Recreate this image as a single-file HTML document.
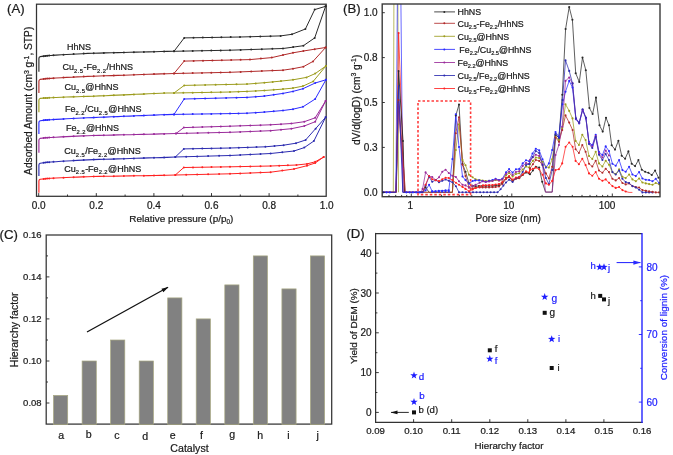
<!DOCTYPE html>
<html><head><meta charset="utf-8"><title>Figure</title>
<style>
html,body{margin:0;padding:0;background:#fff;}
body{width:673px;height:455px;overflow:hidden;font-family:"Liberation Sans",sans-serif;}
svg{display:block;filter:blur(0.35px);}
text{stroke-width:0.22px;paint-order:stroke;}
</style></head><body>
<svg width="673" height="455" viewBox="0 0 673 455" font-family="Liberation Sans, sans-serif">
<rect x="36.5" y="4.2" width="289.7" height="192.10000000000002" fill="none" stroke="#333" stroke-width="1.25"/>
<line x1="38.7" y1="196.3" x2="38.7" y2="193.1" stroke="#222" stroke-width="0.9"/>
<line x1="67.5" y1="196.3" x2="67.5" y2="194.5" stroke="#222" stroke-width="0.9"/>
<line x1="96.3" y1="196.3" x2="96.3" y2="193.1" stroke="#222" stroke-width="0.9"/>
<line x1="125.1" y1="196.3" x2="125.1" y2="194.5" stroke="#222" stroke-width="0.9"/>
<line x1="153.9" y1="196.3" x2="153.9" y2="193.1" stroke="#222" stroke-width="0.9"/>
<line x1="182.7" y1="196.3" x2="182.7" y2="194.5" stroke="#222" stroke-width="0.9"/>
<line x1="211.5" y1="196.3" x2="211.5" y2="193.1" stroke="#222" stroke-width="0.9"/>
<line x1="240.3" y1="196.3" x2="240.3" y2="194.5" stroke="#222" stroke-width="0.9"/>
<line x1="269.1" y1="196.3" x2="269.1" y2="193.1" stroke="#222" stroke-width="0.9"/>
<line x1="297.9" y1="196.3" x2="297.9" y2="194.5" stroke="#222" stroke-width="0.9"/>
<text x="38.7" y="208.9" font-size="10" text-anchor="middle" fill="#1a1a1a" stroke="#1a1a1a" >0.0</text>
<text x="96.3" y="208.9" font-size="10" text-anchor="middle" fill="#1a1a1a" stroke="#1a1a1a" >0.2</text>
<text x="153.9" y="208.9" font-size="10" text-anchor="middle" fill="#1a1a1a" stroke="#1a1a1a" >0.4</text>
<text x="211.5" y="208.9" font-size="10" text-anchor="middle" fill="#1a1a1a" stroke="#1a1a1a" >0.6</text>
<text x="269.1" y="208.9" font-size="10" text-anchor="middle" fill="#1a1a1a" stroke="#1a1a1a" >0.8</text>
<text x="326.7" y="208.9" font-size="10" text-anchor="middle" fill="#1a1a1a" stroke="#1a1a1a" >1.0</text>
<text x="181.3" y="222.0" font-size="9.95" text-anchor="middle" fill="#1a1a1a" stroke="#1a1a1a" >Relative pressure (p/p<tspan font-size="6.3" dy="2.2" letter-spacing="0">0</tspan><tspan dy="-2.2" font-size="1">&#8203;</tspan>)</text>
<text transform="translate(32.3,100.8) rotate(-90)" font-size="10.2" text-anchor="middle" fill="#1a1a1a" stroke="#1a1a1a">Adsorbed Amount (cm<tspan font-size="6.9" dy="-3.4">3</tspan><tspan dy="3.4" font-size="1">&#8203;</tspan> g<tspan font-size="6.9" dy="-3.4">-1</tspan><tspan dy="3.4" font-size="1">&#8203;</tspan>, STP)</text>
<text x="7.0" y="13.3" font-size="13.2" text-anchor="start" fill="#1a1a1a" stroke="#1a1a1a" >(A)</text>
<polyline points="38.9,71.8 38.9,58.6 39.2,57.3 40.2,56.6 45.5,55.9 50.8,55.5 56.0,55.1 61.3,54.8 66.6,54.5 71.9,54.2 77.2,54.0 82.4,53.7 87.7,53.4 93.0,53.2 99.2,53.1 105.3,52.9 111.5,52.8 117.7,52.6 123.8,52.5 130.0,52.3 136.2,52.1 142.3,52.0 148.5,51.9 154.7,51.7 160.8,51.5 167.0,51.4 174.0,51.3" fill="none" stroke="#2a2a2a" stroke-width="1.15" stroke-linejoin="round" />
<polyline points="174.0,51.3 230.0,50.2 283.0,48.5 303.4,45.7 314.7,37.9 325.6,6.3" fill="none" stroke="#2a2a2a" stroke-width="1.0" stroke-linejoin="round" />
<polyline points="174.0,51.3 184.2,37.9 240.0,37.0 280.6,35.9 292.0,34.3 305.4,29.0 314.7,9.6 325.6,6.3" fill="none" stroke="#2a2a2a" stroke-width="1.0" stroke-linejoin="round" />
<g fill="#2a2a2a" ><circle cx="43.6" cy="56.2" r="1.0"/><circle cx="45.4" cy="55.9" r="1.0"/><circle cx="47.2" cy="55.8" r="1.0"/><circle cx="49.2" cy="55.6" r="1.0"/><circle cx="53.5" cy="55.3" r="1.0"/><circle cx="63.5" cy="54.7" r="1.0"/><circle cx="73.6" cy="54.1" r="1.0"/><circle cx="83.7" cy="53.6" r="1.0"/><circle cx="93.7" cy="53.2" r="1.0"/><circle cx="103.8" cy="52.9" r="1.0"/><circle cx="113.8" cy="52.7" r="1.0"/><circle cx="123.9" cy="52.4" r="1.0"/><circle cx="133.9" cy="52.2" r="1.0"/><circle cx="143.9" cy="52.0" r="1.0"/><circle cx="154.0" cy="51.7" r="1.0"/><circle cx="164.1" cy="51.5" r="1.0"/></g>
<g fill="#2a2a2a" ><circle cx="174.0" cy="51.3" r="1.0"/><circle cx="183.3" cy="51.1" r="1.0"/><circle cx="192.7" cy="50.9" r="1.0"/><circle cx="202.0" cy="50.8" r="1.0"/><circle cx="211.3" cy="50.6" r="1.0"/><circle cx="220.7" cy="50.4" r="1.0"/><circle cx="230.0" cy="50.2" r="1.0"/><circle cx="240.6" cy="49.9" r="1.0"/><circle cx="251.2" cy="49.5" r="1.0"/><circle cx="261.8" cy="49.2" r="1.0"/><circle cx="272.4" cy="48.8" r="1.0"/><circle cx="283.0" cy="48.5" r="1.0"/><circle cx="293.2" cy="47.1" r="1.0"/><circle cx="303.4" cy="45.7" r="1.0"/><circle cx="314.7" cy="37.9" r="1.0"/><circle cx="325.6" cy="6.3" r="1.0"/></g>
<g fill="#2a2a2a" ><circle cx="174.0" cy="51.3" r="1.0"/><circle cx="184.2" cy="37.9" r="1.0"/><circle cx="193.5" cy="37.8" r="1.0"/><circle cx="202.8" cy="37.6" r="1.0"/><circle cx="212.1" cy="37.5" r="1.0"/><circle cx="221.4" cy="37.3" r="1.0"/><circle cx="230.7" cy="37.1" r="1.0"/><circle cx="240.0" cy="37.0" r="1.0"/><circle cx="250.2" cy="36.7" r="1.0"/><circle cx="260.3" cy="36.5" r="1.0"/><circle cx="270.5" cy="36.2" r="1.0"/><circle cx="280.6" cy="35.9" r="1.0"/><circle cx="292.0" cy="34.3" r="1.0"/><circle cx="305.4" cy="29.0" r="1.0"/><circle cx="314.7" cy="9.6" r="1.0"/><circle cx="325.6" cy="6.3" r="1.0"/></g>
<polyline points="38.9,93.0 38.9,81.4 39.2,80.1 40.2,79.4 45.5,78.8 50.8,78.4 56.0,78.0 61.3,77.7 66.6,77.4 71.9,77.2 77.2,76.9 82.4,76.7 87.7,76.4 93.0,76.2 99.2,76.0 105.3,75.8 111.5,75.6 117.7,75.4 123.8,75.2 130.0,75.0 136.2,74.7 142.3,74.5 148.5,74.3 154.7,74.1 160.8,73.9 167.0,73.7 174.0,73.5" fill="none" stroke="#b02a2a" stroke-width="1.15" stroke-linejoin="round" />
<polyline points="174.0,73.5 230.0,72.3 283.0,70.2 293.0,68.7 303.4,66.7 313.0,61.4 325.6,47.5" fill="none" stroke="#b02a2a" stroke-width="1.0" stroke-linejoin="round" />
<polyline points="174.0,73.5 184.2,61.1 250.0,59.6 271.8,57.6 283.0,55.0 293.0,52.8 303.4,51.0 314.7,49.2 325.6,47.5" fill="none" stroke="#b02a2a" stroke-width="1.0" stroke-linejoin="round" />
<g fill="#b02a2a" ><circle cx="43.6" cy="79.0" r="1.0"/><circle cx="45.4" cy="78.8" r="1.0"/><circle cx="47.2" cy="78.6" r="1.0"/><circle cx="49.2" cy="78.5" r="1.0"/><circle cx="53.5" cy="78.2" r="1.0"/><circle cx="63.5" cy="77.6" r="1.0"/><circle cx="73.6" cy="77.1" r="1.0"/><circle cx="83.7" cy="76.6" r="1.0"/><circle cx="93.7" cy="76.2" r="1.0"/><circle cx="103.8" cy="75.8" r="1.0"/><circle cx="113.8" cy="75.5" r="1.0"/><circle cx="123.9" cy="75.2" r="1.0"/><circle cx="133.9" cy="74.8" r="1.0"/><circle cx="143.9" cy="74.5" r="1.0"/><circle cx="154.0" cy="74.1" r="1.0"/><circle cx="164.1" cy="73.8" r="1.0"/></g>
<g fill="#b02a2a" ><circle cx="174.0" cy="73.5" r="1.0"/><circle cx="183.3" cy="73.3" r="1.0"/><circle cx="192.7" cy="73.1" r="1.0"/><circle cx="202.0" cy="72.9" r="1.0"/><circle cx="211.3" cy="72.7" r="1.0"/><circle cx="220.7" cy="72.5" r="1.0"/><circle cx="230.0" cy="72.3" r="1.0"/><circle cx="240.6" cy="71.9" r="1.0"/><circle cx="251.2" cy="71.5" r="1.0"/><circle cx="261.8" cy="71.0" r="1.0"/><circle cx="272.4" cy="70.6" r="1.0"/><circle cx="283.0" cy="70.2" r="1.0"/><circle cx="293.0" cy="68.7" r="1.0"/><circle cx="303.4" cy="66.7" r="1.0"/><circle cx="313.0" cy="61.4" r="1.0"/><circle cx="325.6" cy="47.5" r="1.0"/></g>
<g fill="#b02a2a" ><circle cx="174.0" cy="73.5" r="1.0"/><circle cx="184.2" cy="61.1" r="1.0"/><circle cx="193.6" cy="60.9" r="1.0"/><circle cx="203.0" cy="60.7" r="1.0"/><circle cx="212.4" cy="60.5" r="1.0"/><circle cx="221.8" cy="60.2" r="1.0"/><circle cx="231.2" cy="60.0" r="1.0"/><circle cx="240.6" cy="59.8" r="1.0"/><circle cx="250.0" cy="59.6" r="1.0"/><circle cx="260.9" cy="58.6" r="1.0"/><circle cx="271.8" cy="57.6" r="1.0"/><circle cx="283.0" cy="55.0" r="1.0"/><circle cx="293.0" cy="52.8" r="1.0"/><circle cx="303.4" cy="51.0" r="1.0"/><circle cx="314.7" cy="49.2" r="1.0"/><circle cx="325.6" cy="47.5" r="1.0"/></g>
<polyline points="38.9,112.2 38.9,100.4 39.2,99.1 40.2,98.4 45.5,98.0 50.8,97.7 56.0,97.5 61.3,97.2 66.6,97.0 71.9,96.9 77.2,96.7 82.4,96.5 87.7,96.4 93.0,96.2 99.2,95.9 105.3,95.7 111.5,95.4 117.7,95.1 123.8,94.9 130.0,94.6 136.2,94.3 142.3,94.1 148.5,93.8 154.7,93.5 160.8,93.3 167.0,93.0 174.0,93.0" fill="none" stroke="#9c9c1e" stroke-width="1.15" stroke-linejoin="round" />
<polyline points="174.0,93.0 230.0,92.0 247.0,91.4 264.4,90.5 283.0,89.1 293.0,88.1 303.0,86.1 313.2,81.4 325.9,66.0" fill="none" stroke="#9c9c1e" stroke-width="1.0" stroke-linejoin="round" />
<polyline points="174.0,93.0 184.2,85.4 247.0,84.1 264.4,82.7 281.0,81.1 293.0,79.8 306.5,77.4 315.2,73.6 325.9,66.0" fill="none" stroke="#9c9c1e" stroke-width="1.0" stroke-linejoin="round" />
<g fill="#9c9c1e" ><circle cx="43.6" cy="98.1" r="1.0"/><circle cx="45.4" cy="98.0" r="1.0"/><circle cx="47.2" cy="97.9" r="1.0"/><circle cx="49.2" cy="97.8" r="1.0"/><circle cx="53.5" cy="97.6" r="1.0"/><circle cx="63.5" cy="97.2" r="1.0"/><circle cx="73.6" cy="96.8" r="1.0"/><circle cx="83.7" cy="96.5" r="1.0"/><circle cx="93.7" cy="96.2" r="1.0"/><circle cx="103.8" cy="95.7" r="1.0"/><circle cx="113.8" cy="95.3" r="1.0"/><circle cx="123.9" cy="94.9" r="1.0"/><circle cx="133.9" cy="94.4" r="1.0"/><circle cx="143.9" cy="94.0" r="1.0"/><circle cx="154.0" cy="93.6" r="1.0"/><circle cx="164.1" cy="93.1" r="1.0"/></g>
<g fill="#9c9c1e" ><circle cx="174.0" cy="93.0" r="1.0"/><circle cx="183.3" cy="92.8" r="1.0"/><circle cx="192.7" cy="92.7" r="1.0"/><circle cx="202.0" cy="92.5" r="1.0"/><circle cx="211.3" cy="92.3" r="1.0"/><circle cx="220.7" cy="92.2" r="1.0"/><circle cx="230.0" cy="92.0" r="1.0"/><circle cx="238.5" cy="91.7" r="1.0"/><circle cx="247.0" cy="91.4" r="1.0"/><circle cx="255.7" cy="91.0" r="1.0"/><circle cx="264.4" cy="90.5" r="1.0"/><circle cx="273.7" cy="89.8" r="1.0"/><circle cx="283.0" cy="89.1" r="1.0"/><circle cx="293.0" cy="88.1" r="1.0"/><circle cx="303.0" cy="86.1" r="1.0"/><circle cx="313.2" cy="81.4" r="1.0"/><circle cx="325.9" cy="66.0" r="1.0"/></g>
<g fill="#9c9c1e" ><circle cx="174.0" cy="93.0" r="1.0"/><circle cx="184.2" cy="85.4" r="1.0"/><circle cx="194.7" cy="85.2" r="1.0"/><circle cx="205.1" cy="85.0" r="1.0"/><circle cx="215.6" cy="84.8" r="1.0"/><circle cx="226.1" cy="84.5" r="1.0"/><circle cx="236.5" cy="84.3" r="1.0"/><circle cx="247.0" cy="84.1" r="1.0"/><circle cx="255.7" cy="83.4" r="1.0"/><circle cx="264.4" cy="82.7" r="1.0"/><circle cx="272.7" cy="81.9" r="1.0"/><circle cx="281.0" cy="81.1" r="1.0"/><circle cx="293.0" cy="79.8" r="1.0"/><circle cx="306.5" cy="77.4" r="1.0"/><circle cx="315.2" cy="73.6" r="1.0"/><circle cx="325.9" cy="66.0" r="1.0"/></g>
<polyline points="38.9,133.9 38.9,122.7 39.2,121.4 40.2,120.7 45.5,120.1 50.8,119.7 56.0,119.4 61.3,119.1 66.6,118.8 71.9,118.5 77.2,118.3 82.4,118.0 87.7,117.8 93.0,117.6 99.2,117.3 105.3,117.1 111.5,116.8 117.7,116.6 123.8,116.3 130.0,116.1 136.2,115.8 142.3,115.6 148.5,115.3 154.7,115.1 160.8,114.8 167.0,114.6 174.0,114.4" fill="none" stroke="#2a2aff" stroke-width="1.15" stroke-linejoin="round" />
<polyline points="174.0,114.4 230.0,113.6 247.0,113.2 264.4,112.1 283.0,110.5 293.0,109.2 303.0,106.8 315.2,99.0 325.9,79.8" fill="none" stroke="#2a2aff" stroke-width="1.0" stroke-linejoin="round" />
<polyline points="174.0,114.4 184.2,99.0 247.0,97.4 264.4,96.1 283.0,93.4 293.0,91.4 303.0,88.7 315.2,83.0 325.9,79.8" fill="none" stroke="#2a2aff" stroke-width="1.0" stroke-linejoin="round" />
<g fill="#2a2aff" ><circle cx="43.6" cy="120.3" r="1.0"/><circle cx="45.4" cy="120.1" r="1.0"/><circle cx="47.2" cy="120.0" r="1.0"/><circle cx="49.2" cy="119.8" r="1.0"/><circle cx="53.5" cy="119.5" r="1.0"/><circle cx="63.5" cy="119.0" r="1.0"/><circle cx="73.6" cy="118.5" r="1.0"/><circle cx="83.7" cy="118.0" r="1.0"/><circle cx="93.7" cy="117.6" r="1.0"/><circle cx="103.8" cy="117.2" r="1.0"/><circle cx="113.8" cy="116.8" r="1.0"/><circle cx="123.9" cy="116.3" r="1.0"/><circle cx="133.9" cy="115.9" r="1.0"/><circle cx="143.9" cy="115.5" r="1.0"/><circle cx="154.0" cy="115.1" r="1.0"/><circle cx="164.1" cy="114.7" r="1.0"/></g>
<g fill="#2a2aff" ><circle cx="174.0" cy="114.4" r="1.0"/><circle cx="183.3" cy="114.3" r="1.0"/><circle cx="192.7" cy="114.1" r="1.0"/><circle cx="202.0" cy="114.0" r="1.0"/><circle cx="211.3" cy="113.9" r="1.0"/><circle cx="220.7" cy="113.7" r="1.0"/><circle cx="230.0" cy="113.6" r="1.0"/><circle cx="238.5" cy="113.4" r="1.0"/><circle cx="247.0" cy="113.2" r="1.0"/><circle cx="255.7" cy="112.7" r="1.0"/><circle cx="264.4" cy="112.1" r="1.0"/><circle cx="273.7" cy="111.3" r="1.0"/><circle cx="283.0" cy="110.5" r="1.0"/><circle cx="293.0" cy="109.2" r="1.0"/><circle cx="303.0" cy="106.8" r="1.0"/><circle cx="315.2" cy="99.0" r="1.0"/><circle cx="325.9" cy="79.8" r="1.0"/></g>
<g fill="#2a2aff" ><circle cx="174.0" cy="114.4" r="1.0"/><circle cx="184.2" cy="99.0" r="1.0"/><circle cx="194.7" cy="98.7" r="1.0"/><circle cx="205.1" cy="98.5" r="1.0"/><circle cx="215.6" cy="98.2" r="1.0"/><circle cx="226.1" cy="97.9" r="1.0"/><circle cx="236.5" cy="97.7" r="1.0"/><circle cx="247.0" cy="97.4" r="1.0"/><circle cx="255.7" cy="96.8" r="1.0"/><circle cx="264.4" cy="96.1" r="1.0"/><circle cx="273.7" cy="94.8" r="1.0"/><circle cx="283.0" cy="93.4" r="1.0"/><circle cx="293.0" cy="91.4" r="1.0"/><circle cx="303.0" cy="88.7" r="1.0"/><circle cx="315.2" cy="83.0" r="1.0"/><circle cx="325.9" cy="79.8" r="1.0"/></g>
<polyline points="38.9,152.7 38.9,140.4 39.2,139.1 40.2,138.4 45.5,137.8 50.8,137.5 56.0,137.2 61.3,136.9 66.6,136.6 71.9,136.4 77.2,136.1 82.4,135.9 87.7,135.7 93.0,135.5 99.2,135.4 105.3,135.2 111.5,135.1 117.7,134.9 123.8,134.8 130.0,134.7 136.2,134.5 142.3,134.4 148.5,134.2 154.7,134.1 160.8,133.9 167.0,133.8 176.0,133.5" fill="none" stroke="#9a2a9a" stroke-width="1.15" stroke-linejoin="round" />
<polyline points="176.0,133.5 230.0,132.3 270.6,130.7 291.4,128.7 304.3,126.0 315.2,121.7 325.6,101.0" fill="none" stroke="#9a2a9a" stroke-width="1.0" stroke-linejoin="round" />
<polyline points="176.0,133.5 183.8,127.6 230.0,126.2 270.6,124.8 291.4,123.5 304.3,121.7 315.2,117.8 325.6,101.0" fill="none" stroke="#9a2a9a" stroke-width="1.0" stroke-linejoin="round" />
<g fill="#9a2a9a" ><circle cx="43.6" cy="138.0" r="1.0"/><circle cx="45.4" cy="137.8" r="1.0"/><circle cx="47.2" cy="137.7" r="1.0"/><circle cx="49.2" cy="137.6" r="1.0"/><circle cx="53.5" cy="137.3" r="1.0"/><circle cx="63.5" cy="136.8" r="1.0"/><circle cx="73.6" cy="136.3" r="1.0"/><circle cx="83.7" cy="135.9" r="1.0"/><circle cx="93.7" cy="135.5" r="1.0"/><circle cx="103.8" cy="135.3" r="1.0"/><circle cx="113.8" cy="135.0" r="1.0"/><circle cx="123.9" cy="134.8" r="1.0"/><circle cx="133.9" cy="134.6" r="1.0"/><circle cx="143.9" cy="134.3" r="1.0"/><circle cx="154.0" cy="134.1" r="1.0"/><circle cx="164.1" cy="133.9" r="1.0"/></g>
<g fill="#9a2a9a" ><circle cx="176.0" cy="133.5" r="1.0"/><circle cx="186.8" cy="133.3" r="1.0"/><circle cx="197.6" cy="133.0" r="1.0"/><circle cx="208.4" cy="132.8" r="1.0"/><circle cx="219.2" cy="132.5" r="1.0"/><circle cx="230.0" cy="132.3" r="1.0"/><circle cx="240.2" cy="131.9" r="1.0"/><circle cx="250.3" cy="131.5" r="1.0"/><circle cx="260.5" cy="131.1" r="1.0"/><circle cx="270.6" cy="130.7" r="1.0"/><circle cx="281.0" cy="129.7" r="1.0"/><circle cx="291.4" cy="128.7" r="1.0"/><circle cx="304.3" cy="126.0" r="1.0"/><circle cx="315.2" cy="121.7" r="1.0"/><circle cx="325.6" cy="101.0" r="1.0"/></g>
<g fill="#9a2a9a" ><circle cx="176.0" cy="133.5" r="1.0"/><circle cx="183.8" cy="127.6" r="1.0"/><circle cx="193.0" cy="127.3" r="1.0"/><circle cx="202.3" cy="127.0" r="1.0"/><circle cx="211.5" cy="126.8" r="1.0"/><circle cx="220.8" cy="126.5" r="1.0"/><circle cx="230.0" cy="126.2" r="1.0"/><circle cx="240.2" cy="125.8" r="1.0"/><circle cx="250.3" cy="125.5" r="1.0"/><circle cx="260.5" cy="125.2" r="1.0"/><circle cx="270.6" cy="124.8" r="1.0"/><circle cx="281.0" cy="124.2" r="1.0"/><circle cx="291.4" cy="123.5" r="1.0"/><circle cx="304.3" cy="121.7" r="1.0"/><circle cx="315.2" cy="117.8" r="1.0"/><circle cx="325.6" cy="101.0" r="1.0"/></g>
<polyline points="38.9,176.1 38.9,165.2 39.2,163.9 40.2,163.2 45.5,162.5 50.8,162.0 56.0,161.7 61.3,161.3 66.6,161.0 71.9,160.7 77.2,160.4 82.4,160.1 87.7,159.9 93.0,159.6 99.2,159.4 105.3,159.2 111.5,159.1 117.7,158.9 123.8,158.7 130.0,158.5 136.2,158.3 142.3,158.1 148.5,157.9 154.7,157.8 160.8,157.6 167.0,157.4 175.3,157.0" fill="none" stroke="#2c2cb0" stroke-width="1.15" stroke-linejoin="round" />
<polyline points="175.3,157.0 230.0,155.5 270.6,153.5 294.0,151.0 304.3,147.6 313.9,141.0 325.6,117.3" fill="none" stroke="#2c2cb0" stroke-width="1.0" stroke-linejoin="round" />
<polyline points="175.3,157.0 183.8,148.9 230.0,148.0 265.4,146.8 283.6,145.2 296.0,143.2 305.6,140.0 325.6,117.3" fill="none" stroke="#2c2cb0" stroke-width="1.0" stroke-linejoin="round" />
<g fill="#2c2cb0" ><circle cx="43.6" cy="162.7" r="1.0"/><circle cx="45.4" cy="162.5" r="1.0"/><circle cx="47.2" cy="162.3" r="1.0"/><circle cx="49.2" cy="162.2" r="1.0"/><circle cx="53.5" cy="161.8" r="1.0"/><circle cx="63.5" cy="161.2" r="1.0"/><circle cx="73.6" cy="160.6" r="1.0"/><circle cx="83.7" cy="160.1" r="1.0"/><circle cx="93.7" cy="159.6" r="1.0"/><circle cx="103.8" cy="159.3" r="1.0"/><circle cx="113.8" cy="159.0" r="1.0"/><circle cx="123.9" cy="158.7" r="1.0"/><circle cx="133.9" cy="158.4" r="1.0"/><circle cx="143.9" cy="158.1" r="1.0"/><circle cx="154.0" cy="157.8" r="1.0"/><circle cx="164.1" cy="157.5" r="1.0"/></g>
<g fill="#2c2cb0" ><circle cx="175.3" cy="157.0" r="1.0"/><circle cx="186.2" cy="156.7" r="1.0"/><circle cx="197.2" cy="156.4" r="1.0"/><circle cx="208.1" cy="156.1" r="1.0"/><circle cx="219.1" cy="155.8" r="1.0"/><circle cx="230.0" cy="155.5" r="1.0"/><circle cx="240.2" cy="155.0" r="1.0"/><circle cx="250.3" cy="154.5" r="1.0"/><circle cx="260.5" cy="154.0" r="1.0"/><circle cx="270.6" cy="153.5" r="1.0"/><circle cx="282.3" cy="152.2" r="1.0"/><circle cx="294.0" cy="151.0" r="1.0"/><circle cx="304.3" cy="147.6" r="1.0"/><circle cx="313.9" cy="141.0" r="1.0"/><circle cx="325.6" cy="117.3" r="1.0"/></g>
<g fill="#2c2cb0" ><circle cx="175.3" cy="157.0" r="1.0"/><circle cx="183.8" cy="148.9" r="1.0"/><circle cx="193.0" cy="148.7" r="1.0"/><circle cx="202.3" cy="148.5" r="1.0"/><circle cx="211.5" cy="148.4" r="1.0"/><circle cx="220.8" cy="148.2" r="1.0"/><circle cx="230.0" cy="148.0" r="1.0"/><circle cx="238.8" cy="147.7" r="1.0"/><circle cx="247.7" cy="147.4" r="1.0"/><circle cx="256.5" cy="147.1" r="1.0"/><circle cx="265.4" cy="146.8" r="1.0"/><circle cx="274.5" cy="146.0" r="1.0"/><circle cx="283.6" cy="145.2" r="1.0"/><circle cx="296.0" cy="143.2" r="1.0"/><circle cx="305.6" cy="140.0" r="1.0"/><circle cx="315.6" cy="128.7" r="1.0"/><circle cx="325.6" cy="117.3" r="1.0"/></g>
<polyline points="38.9,192.8 38.9,181.2 39.2,179.9 40.2,179.2 45.5,178.7 50.8,178.3 56.0,178.0 61.3,177.8 66.6,177.5 71.9,177.3 77.2,177.1 82.4,176.9 87.7,176.7 93.0,176.5 99.2,176.4 105.3,176.3 111.5,176.2 117.7,176.1 123.8,176.0 130.0,175.9 136.2,175.8 142.3,175.7 148.5,175.6 154.7,175.5 160.8,175.4 167.0,175.3 175.3,175.0" fill="none" stroke="#ff2222" stroke-width="1.15" stroke-linejoin="round" />
<polyline points="175.3,175.0 230.0,173.8 270.6,172.2 294.0,169.0 307.0,165.7 315.2,163.0 323.7,157.0" fill="none" stroke="#ff2222" stroke-width="1.0" stroke-linejoin="round" />
<polyline points="175.3,175.0 183.8,167.5 230.0,166.8 270.6,166.0 296.5,165.0 307.0,163.9 315.2,161.8 323.7,157.0" fill="none" stroke="#ff2222" stroke-width="1.0" stroke-linejoin="round" />
<g fill="#ff2222" ><circle cx="43.6" cy="178.9" r="1.0"/><circle cx="45.4" cy="178.7" r="1.0"/><circle cx="47.2" cy="178.6" r="1.0"/><circle cx="49.2" cy="178.4" r="1.0"/><circle cx="53.5" cy="178.2" r="1.0"/><circle cx="63.5" cy="177.7" r="1.0"/><circle cx="73.6" cy="177.2" r="1.0"/><circle cx="83.7" cy="176.8" r="1.0"/><circle cx="93.7" cy="176.5" r="1.0"/><circle cx="103.8" cy="176.3" r="1.0"/><circle cx="113.8" cy="176.2" r="1.0"/><circle cx="123.9" cy="176.0" r="1.0"/><circle cx="133.9" cy="175.8" r="1.0"/><circle cx="143.9" cy="175.7" r="1.0"/><circle cx="154.0" cy="175.5" r="1.0"/><circle cx="164.1" cy="175.3" r="1.0"/></g>
<g fill="#ff2222" ><circle cx="175.3" cy="175.0" r="1.0"/><circle cx="186.2" cy="174.8" r="1.0"/><circle cx="197.2" cy="174.5" r="1.0"/><circle cx="208.1" cy="174.3" r="1.0"/><circle cx="219.1" cy="174.0" r="1.0"/><circle cx="230.0" cy="173.8" r="1.0"/><circle cx="240.2" cy="173.4" r="1.0"/><circle cx="250.3" cy="173.0" r="1.0"/><circle cx="260.5" cy="172.6" r="1.0"/><circle cx="270.6" cy="172.2" r="1.0"/><circle cx="282.3" cy="170.6" r="1.0"/><circle cx="294.0" cy="169.0" r="1.0"/><circle cx="307.0" cy="165.7" r="1.0"/><circle cx="315.2" cy="163.0" r="1.0"/><circle cx="323.7" cy="157.0" r="1.0"/></g>
<g fill="#ff2222" ><circle cx="175.3" cy="175.0" r="1.0"/><circle cx="183.8" cy="167.5" r="1.0"/><circle cx="193.0" cy="167.4" r="1.0"/><circle cx="202.3" cy="167.2" r="1.0"/><circle cx="211.5" cy="167.1" r="1.0"/><circle cx="220.8" cy="166.9" r="1.0"/><circle cx="230.0" cy="166.8" r="1.0"/><circle cx="240.2" cy="166.6" r="1.0"/><circle cx="250.3" cy="166.4" r="1.0"/><circle cx="260.5" cy="166.2" r="1.0"/><circle cx="270.6" cy="166.0" r="1.0"/><circle cx="279.2" cy="165.7" r="1.0"/><circle cx="287.9" cy="165.3" r="1.0"/><circle cx="296.5" cy="165.0" r="1.0"/><circle cx="307.0" cy="163.9" r="1.0"/><circle cx="315.2" cy="161.8" r="1.0"/><circle cx="323.7" cy="157.0" r="1.0"/></g>
<text x="66.9" y="50.4" font-size="9.0" text-anchor="start" fill="#1a1a1a" stroke="#1a1a1a" >HhNS</text>
<text x="62.6" y="70.2" font-size="9.0" text-anchor="start" fill="#1a1a1a" stroke="#1a1a1a" >Cu<tspan font-size="5.8" dy="2.7" letter-spacing="0.45">2.5</tspan><tspan dy="-2.7" font-size="1">&#8203;</tspan>-Fe<tspan font-size="5.8" dy="2.7" letter-spacing="0.45">2.2</tspan><tspan dy="-2.7" font-size="1">&#8203;</tspan>/HhNS</text>
<text x="64.4" y="90.2" font-size="9.0" text-anchor="start" fill="#1a1a1a" stroke="#1a1a1a" >Cu<tspan font-size="5.8" dy="2.7" letter-spacing="0.45">2.5</tspan><tspan dy="-2.7" font-size="1">&#8203;</tspan>@HhNS</text>
<text x="64.9" y="112.2" font-size="9.0" text-anchor="start" fill="#1a1a1a" stroke="#1a1a1a" >Fe<tspan font-size="5.8" dy="2.7" letter-spacing="0.45">2.2</tspan><tspan dy="-2.7" font-size="1">&#8203;</tspan>/Cu<tspan font-size="5.8" dy="2.7" letter-spacing="0.45">2.5</tspan><tspan dy="-2.7" font-size="1">&#8203;</tspan>@HhNS</text>
<text x="66.0" y="130.8" font-size="9.0" text-anchor="start" fill="#1a1a1a" stroke="#1a1a1a" >Fe<tspan font-size="5.8" dy="2.7" letter-spacing="0.45">2.2</tspan><tspan dy="-2.7" font-size="1">&#8203;</tspan>@HhNS</text>
<text x="64.2" y="154.2" font-size="9.0" text-anchor="start" fill="#1a1a1a" stroke="#1a1a1a" >Cu<tspan font-size="5.8" dy="2.7" letter-spacing="0.45">2.5</tspan><tspan dy="-2.7" font-size="1">&#8203;</tspan>/Fe<tspan font-size="5.8" dy="2.7" letter-spacing="0.45">2.2</tspan><tspan dy="-2.7" font-size="1">&#8203;</tspan>@HhNS</text>
<text x="64.2" y="171.5" font-size="9.0" text-anchor="start" fill="#1a1a1a" stroke="#1a1a1a" >Cu<tspan font-size="5.8" dy="2.7" letter-spacing="0.45">2.5</tspan><tspan dy="-2.7" font-size="1">&#8203;</tspan>-Fe<tspan font-size="5.8" dy="2.7" letter-spacing="0.45">2.2</tspan><tspan dy="-2.7" font-size="1">&#8203;</tspan>@HhNS</text>
<clipPath id="cb"><rect x="382.2" y="4.0" width="277.8" height="192.7"/></clipPath>
<g clip-path="url(#cb)">
<polyline points="382.5,192.3 393.3,192.3 395.9,-622.0 398.5,192.3" fill="none" stroke="#9c9c1e" stroke-width="0.7" stroke-linejoin="round" />
<polyline points="382.5,192.3 395.9,192.3 398.9,-200.0 402.8,192.3 421.0,192.3" fill="none" stroke="#2a2aff" stroke-width="0.7" stroke-linejoin="round" />
<polyline points="382.5,192.3 396.2,192.3 398.6,33.0 404.5,192.3 421.0,192.3" fill="none" stroke="#ff2222" stroke-width="0.75" stroke-linejoin="round" />
<polyline points="382.5,192.3 396.2,192.3 398.6,71.0 403.0,141.0 404.5,192.3 421.0,192.3" fill="none" stroke="#2a2a2a" stroke-width="0.9" stroke-linejoin="round" />
<polyline points="382.5,192.3 396.2,192.3 398.6,100.0 405.4,192.3 421.0,192.3" fill="none" stroke="#b02a2a" stroke-width="0.9" stroke-linejoin="round" />
<polyline points="382.5,192.3 395.9,192.3 398.4,103.0 402.8,169.0 403.2,192.3 421.0,192.3" fill="none" stroke="#9a2a9a" stroke-width="0.9" stroke-linejoin="round" />
<polyline points="382.5,192.3 395.9,192.3 398.6,85.0 402.8,192.3 421.0,192.3" fill="none" stroke="#2c2cb0" stroke-width="0.9" stroke-linejoin="round" />
<g fill="#ff2222" ><circle cx="398.6" cy="33.0" r="1.0"/></g>
<g fill="#2a2a2a" ><circle cx="398.6" cy="71.0" r="0.9"/><circle cx="403.0" cy="141.0" r="0.9"/></g>
<g fill="#9a2a9a" ><circle cx="402.8" cy="169.0" r="0.9"/></g>
<g fill="#b02a2a" ><circle cx="398.6" cy="100.0" r="0.9"/></g>
<polyline points="421.0,192.3 422.6,192.3 425.6,187.4 429.1,192.3 452.4,192.3 455.8,115.5 459.0,104.6 462.5,164.1 465.5,171.7 469.0,183.3 472.6,185.9 475.6,186.2 479.0,186.0 485.7,186.0 492.5,186.0 495.6,185.6 499.0,185.2 502.3,183.0 506.0,178.0 509.1,177.0 512.6,180.5 515.9,178.5 519.2,178.0 522.7,175.0 526.0,172.5 529.2,173.5 530.0,174.3 535.8,166.7 539.2,167.6 542.2,181.8 545.5,192.1 552.2,192.1 555.5,135.0 558.9,137.5 562.3,94.7 565.6,29.0 569.2,7.1 572.4,19.7 575.7,73.2 579.3,82.0 582.5,57.6 585.8,70.2 589.4,108.0 592.6,114.0 596.0,97.6 599.5,125.3 602.7,131.6 606.0,117.7 609.0,125.3 611.7,145.3 615.0,149.6 618.4,140.7 621.7,155.8 625.1,158.7 628.4,151.4 631.7,163.8 635.1,166.1 638.4,160.1 641.8,169.7 645.1,171.8 648.4,172.8 651.8,175.0 655.1,170.5 658.5,177.7" fill="none" stroke="#2a2a2a" stroke-width="0.75" stroke-linejoin="round" />
<polyline points="421.0,192.3 452.4,192.3 455.8,150.0 459.0,124.3 462.5,160.0 465.5,165.2 469.0,174.7 472.6,177.3 475.6,179.3 479.6,180.1 485.7,181.0 492.5,180.8 495.6,180.0 499.0,180.6 502.3,179.5 506.0,175.5 509.1,173.0 512.6,176.5 515.9,174.0 519.2,173.3 522.7,169.5 526.0,166.5 529.2,167.5 530.0,164.2 535.8,157.6 539.2,158.0 542.5,161.7 545.9,166.7 548.9,167.6 552.2,159.2 555.5,136.7 558.9,140.0 562.2,128.0 565.5,104.3 569.2,110.9 572.5,118.4 575.6,140.9 578.9,145.0 582.3,134.7 585.6,140.0 589.0,156.0 592.3,159.0 595.7,151.8 599.0,163.4 602.4,166.5 605.7,160.7 609.0,164.7 612.4,172.1 615.7,174.1 619.1,169.4 622.4,176.8 625.7,178.1 629.1,174.5 632.4,179.4 635.8,181.2 639.1,178.5 642.4,182.5 645.8,183.4 649.1,184.1 652.5,184.8 655.8,183.0 659.1,184.3" fill="none" stroke="#9c9c1e" stroke-width="0.75" stroke-linejoin="round" />
<polyline points="421.0,192.3 452.4,192.3 455.8,133.2 459.0,117.2 462.5,164.6 465.5,176.0 469.0,187.4 472.6,188.4 475.6,187.9 479.6,187.4 485.7,187.4 492.5,187.3 495.6,187.0 499.0,186.5 502.3,184.0 506.0,179.0 509.1,177.2 512.6,181.0 515.9,178.8 519.2,178.3 522.7,174.5 526.0,171.5 529.2,172.8 530.0,168.4 535.8,160.0 539.2,160.9 542.5,165.0 545.9,173.4 548.9,178.4 552.2,166.7 555.5,137.5 558.9,141.7 562.2,130.0 565.5,115.4 569.2,122.6 572.6,130.0 575.6,149.2 578.9,153.0 582.3,145.0 585.6,151.7 589.0,163.8 592.3,166.5 595.7,160.7 599.0,170.5 602.4,172.8 605.7,168.7 609.0,172.1 612.4,178.8 615.7,180.4 619.1,178.1 622.4,183.0 625.7,184.4 629.1,183.4 632.4,186.1 635.8,187.1 639.1,187.5 642.4,190.1 645.8,190.8 649.1,191.5 652.5,191.9 655.8,192.4 659.1,192.4" fill="none" stroke="#b02a2a" stroke-width="0.75" stroke-linejoin="round" />
<polyline points="421.0,192.3 422.6,192.3 425.6,190.4 429.1,184.8 432.2,191.4 448.8,190.2 452.4,159.1 455.8,114.2 459.0,147.0 462.5,176.5 465.5,180.1 469.0,183.7 472.6,181.0 475.2,180.4 479.0,180.4 485.7,181.8 492.5,180.0 495.6,178.8 499.0,180.0 502.3,178.8 506.0,172.3 509.1,169.0 512.6,172.6 515.9,169.3 519.2,169.0 522.7,163.4 526.0,160.3 529.2,161.2 532.5,153.5 535.8,148.7 539.2,150.4 542.5,159.2 545.9,167.6 548.9,163.4 552.2,150.0 555.5,132.0 558.9,136.7 562.5,104.3 565.5,91.7 569.2,80.9 572.5,87.6 575.9,119.3 579.2,123.5 582.6,110.1 585.9,118.4 589.0,142.0 592.3,145.3 595.7,134.7 599.0,152.0 602.4,155.0 605.7,146.4 609.0,151.0 612.4,163.8 615.7,165.7 619.1,160.0 622.4,170.1 625.7,171.8 629.1,166.7 632.4,174.5 635.8,176.1 639.1,172.1 642.4,178.5 645.8,179.8 649.1,180.1 652.5,181.2 655.8,178.8 659.1,183.0" fill="none" stroke="#2a2aff" stroke-width="0.75" stroke-linejoin="round" />
<polyline points="421.0,192.3 422.6,188.9 425.6,172.4 429.1,176.3 432.2,177.0 435.7,180.0 439.0,177.3 442.3,171.7 445.6,169.7 448.8,173.0 452.4,175.8 455.9,177.0 459.0,181.3 462.5,184.8 465.5,185.4 469.0,187.6 472.6,185.9 475.6,184.8 479.6,182.8 483.0,181.3 485.7,182.0 492.5,181.0 495.6,179.5 499.0,180.5 502.3,179.5 506.0,174.0 509.1,171.5 512.6,175.0 515.9,172.0 519.2,171.3 522.7,166.0 526.0,163.0 529.2,164.0 530.0,160.0 535.8,154.7 539.2,155.9 542.5,164.2 545.5,192.1 552.2,192.1 555.5,155.0 558.9,145.0 562.2,126.7 565.5,80.9 569.2,77.5 572.5,83.4 575.9,118.8 579.2,123.0 582.6,109.7 585.9,118.0 589.0,143.0 592.3,146.6 595.7,136.0 599.0,153.3 602.4,157.5 605.7,150.5 609.0,155.5" fill="none" stroke="#9a2a9a" stroke-width="0.75" stroke-linejoin="round" />
<polyline points="421.0,192.3 422.6,192.3 425.6,185.4 429.1,176.8 432.2,181.8 435.7,180.1 439.0,182.3 442.3,180.8 445.6,179.5 448.8,180.8 452.4,182.3 455.9,186.2 459.0,192.3 497.6,192.3 500.6,189.3 503.4,185.6 506.0,182.5 509.1,179.7 512.6,181.9 515.9,178.0 519.2,177.0 522.7,172.0 526.0,165.0 529.2,164.0 532.5,157.0 535.8,151.0 539.2,153.0 542.6,165.0 545.9,178.0 548.9,184.0 552.2,170.0 555.5,134.0 558.9,138.0 562.5,100.0 565.5,60.4 569.2,70.9 572.5,83.4 575.9,118.4 579.2,122.6 582.6,109.3 585.9,117.6 589.0,144.0 592.3,148.0 595.7,137.0 599.0,154.7 602.4,160.0 605.7,154.0 609.0,160.0 612.4,172.1 615.7,174.5 619.1,170.5 622.4,178.8 625.7,182.1 629.1,183.0 632.4,186.1 635.8,187.5 639.1,189.7 642.4,192.4 645.8,192.4 649.1,192.4 652.5,192.4" fill="none" stroke="#2c2cb0" stroke-width="0.75" stroke-linejoin="round" />
<polyline points="421.0,192.3 422.6,192.3 425.6,184.8 429.1,176.0 432.2,179.3 435.7,180.3 439.0,181.1 442.3,179.3 445.6,177.8 448.8,178.0 452.4,180.1 455.9,182.8 459.0,184.8 462.5,186.9 465.5,188.9 469.0,191.2 472.6,189.4 475.6,187.9 479.6,186.4 483.0,185.4 485.7,185.2 492.5,185.0 495.6,184.5 499.0,184.0 502.3,182.0 506.0,178.0 509.1,176.0 512.6,179.5 515.9,177.5 519.2,177.0 522.7,174.5 526.0,171.5 529.2,172.5 530.0,170.0 535.8,167.6 539.2,169.2 542.5,174.8 545.9,183.4 548.9,184.8 552.2,180.9 555.5,170.1 558.9,169.2 562.2,163.4 565.6,146.7 569.2,142.5 572.6,146.7 575.6,160.9 578.9,164.2 582.3,158.7 585.6,165.1 589.0,173.4 592.3,175.8 595.7,172.1 599.0,178.8 602.4,180.8 605.7,179.4 609.0,182.8 612.4,186.1 615.7,187.9 619.1,187.1 622.4,190.1 625.7,191.5 629.1,192.4 632.4,192.4" fill="none" stroke="#ff2222" stroke-width="0.75" stroke-linejoin="round" />
<g fill="#2a2a2a" ><circle cx="425.6" cy="187.4" r="1.05"/><circle cx="455.8" cy="115.5" r="1.05"/><circle cx="459.0" cy="104.6" r="1.05"/><circle cx="462.5" cy="164.1" r="1.05"/><circle cx="465.5" cy="171.7" r="1.05"/><circle cx="469.0" cy="183.3" r="1.05"/><circle cx="472.6" cy="185.9" r="1.05"/><circle cx="475.6" cy="186.2" r="1.05"/><circle cx="479.0" cy="186.0" r="1.05"/><circle cx="482.4" cy="186.0" r="1.05"/><circle cx="485.7" cy="186.0" r="1.05"/><circle cx="489.1" cy="186.0" r="1.05"/><circle cx="492.5" cy="186.0" r="1.05"/><circle cx="495.6" cy="185.6" r="1.05"/><circle cx="499.0" cy="185.2" r="1.05"/><circle cx="502.3" cy="183.0" r="1.05"/><circle cx="506.0" cy="178.0" r="1.05"/><circle cx="509.1" cy="177.0" r="1.05"/><circle cx="512.6" cy="180.5" r="1.05"/><circle cx="515.9" cy="178.5" r="1.05"/><circle cx="519.2" cy="178.0" r="1.05"/><circle cx="522.7" cy="175.0" r="1.05"/><circle cx="526.0" cy="172.5" r="1.05"/><circle cx="529.2" cy="173.5" r="1.05"/><circle cx="530.0" cy="174.3" r="1.05"/><circle cx="532.9" cy="170.5" r="1.05"/><circle cx="535.8" cy="166.7" r="1.05"/><circle cx="539.2" cy="167.6" r="1.05"/><circle cx="542.2" cy="181.8" r="1.05"/><circle cx="555.5" cy="135.0" r="1.05"/><circle cx="558.9" cy="137.5" r="1.05"/><circle cx="562.3" cy="94.7" r="1.05"/><circle cx="565.6" cy="29.0" r="1.05"/><circle cx="569.2" cy="7.1" r="1.05"/><circle cx="572.4" cy="19.7" r="1.05"/><circle cx="575.7" cy="73.2" r="1.05"/><circle cx="579.3" cy="82.0" r="1.05"/><circle cx="582.5" cy="57.6" r="1.05"/><circle cx="585.8" cy="70.2" r="1.05"/><circle cx="589.4" cy="108.0" r="1.05"/><circle cx="592.6" cy="114.0" r="1.05"/><circle cx="596.0" cy="97.6" r="1.05"/><circle cx="599.5" cy="125.3" r="1.05"/><circle cx="602.7" cy="131.6" r="1.05"/><circle cx="606.0" cy="117.7" r="1.05"/><circle cx="609.0" cy="125.3" r="1.05"/><circle cx="611.7" cy="145.3" r="1.05"/><circle cx="615.0" cy="149.6" r="1.05"/><circle cx="618.4" cy="140.7" r="1.05"/><circle cx="621.7" cy="155.8" r="1.05"/><circle cx="625.1" cy="158.7" r="1.05"/><circle cx="628.4" cy="151.4" r="1.05"/><circle cx="631.7" cy="163.8" r="1.05"/><circle cx="635.1" cy="166.1" r="1.05"/><circle cx="638.4" cy="160.1" r="1.05"/><circle cx="641.8" cy="169.7" r="1.05"/><circle cx="645.1" cy="171.8" r="1.05"/><circle cx="648.4" cy="172.8" r="1.05"/><circle cx="651.8" cy="175.0" r="1.05"/><circle cx="655.1" cy="170.5" r="1.05"/><circle cx="658.5" cy="177.7" r="1.05"/></g>
<g fill="#9c9c1e" ><circle cx="455.8" cy="150.0" r="1.05"/><circle cx="459.0" cy="124.3" r="1.05"/><circle cx="462.5" cy="160.0" r="1.05"/><circle cx="465.5" cy="165.2" r="1.05"/><circle cx="469.0" cy="174.7" r="1.05"/><circle cx="472.6" cy="177.3" r="1.05"/><circle cx="475.6" cy="179.3" r="1.05"/><circle cx="479.6" cy="180.1" r="1.05"/><circle cx="482.6" cy="180.6" r="1.05"/><circle cx="485.7" cy="181.0" r="1.05"/><circle cx="489.1" cy="180.9" r="1.05"/><circle cx="492.5" cy="180.8" r="1.05"/><circle cx="495.6" cy="180.0" r="1.05"/><circle cx="499.0" cy="180.6" r="1.05"/><circle cx="502.3" cy="179.5" r="1.05"/><circle cx="506.0" cy="175.5" r="1.05"/><circle cx="509.1" cy="173.0" r="1.05"/><circle cx="512.6" cy="176.5" r="1.05"/><circle cx="515.9" cy="174.0" r="1.05"/><circle cx="519.2" cy="173.3" r="1.05"/><circle cx="522.7" cy="169.5" r="1.05"/><circle cx="526.0" cy="166.5" r="1.05"/><circle cx="529.2" cy="167.5" r="1.05"/><circle cx="530.0" cy="164.2" r="1.05"/><circle cx="532.9" cy="160.9" r="1.05"/><circle cx="535.8" cy="157.6" r="1.05"/><circle cx="539.2" cy="158.0" r="1.05"/><circle cx="542.5" cy="161.7" r="1.05"/><circle cx="545.9" cy="166.7" r="1.05"/><circle cx="548.9" cy="167.6" r="1.05"/><circle cx="552.2" cy="159.2" r="1.05"/><circle cx="555.5" cy="136.7" r="1.05"/><circle cx="558.9" cy="140.0" r="1.05"/><circle cx="562.2" cy="128.0" r="1.05"/><circle cx="565.5" cy="104.3" r="1.05"/><circle cx="569.2" cy="110.9" r="1.05"/><circle cx="572.5" cy="118.4" r="1.05"/><circle cx="575.6" cy="140.9" r="1.05"/><circle cx="578.9" cy="145.0" r="1.05"/><circle cx="582.3" cy="134.7" r="1.05"/><circle cx="585.6" cy="140.0" r="1.05"/><circle cx="589.0" cy="156.0" r="1.05"/><circle cx="592.3" cy="159.0" r="1.05"/><circle cx="595.7" cy="151.8" r="1.05"/><circle cx="599.0" cy="163.4" r="1.05"/><circle cx="602.4" cy="166.5" r="1.05"/><circle cx="605.7" cy="160.7" r="1.05"/><circle cx="609.0" cy="164.7" r="1.05"/><circle cx="612.4" cy="172.1" r="1.05"/><circle cx="615.7" cy="174.1" r="1.05"/><circle cx="619.1" cy="169.4" r="1.05"/><circle cx="622.4" cy="176.8" r="1.05"/><circle cx="625.7" cy="178.1" r="1.05"/><circle cx="629.1" cy="174.5" r="1.05"/><circle cx="632.4" cy="179.4" r="1.05"/><circle cx="635.8" cy="181.2" r="1.05"/><circle cx="639.1" cy="178.5" r="1.05"/><circle cx="642.4" cy="182.5" r="1.05"/><circle cx="645.8" cy="183.4" r="1.05"/><circle cx="649.1" cy="184.1" r="1.05"/><circle cx="652.5" cy="184.8" r="1.05"/><circle cx="655.8" cy="183.0" r="1.05"/><circle cx="659.1" cy="184.3" r="1.05"/></g>
<g fill="#b02a2a" ><circle cx="455.8" cy="133.2" r="1.05"/><circle cx="459.0" cy="117.2" r="1.05"/><circle cx="462.5" cy="164.6" r="1.05"/><circle cx="465.5" cy="176.0" r="1.05"/><circle cx="469.0" cy="187.4" r="1.05"/><circle cx="472.6" cy="188.4" r="1.05"/><circle cx="475.6" cy="187.9" r="1.05"/><circle cx="479.6" cy="187.4" r="1.05"/><circle cx="482.6" cy="187.4" r="1.05"/><circle cx="485.7" cy="187.4" r="1.05"/><circle cx="489.1" cy="187.4" r="1.05"/><circle cx="492.5" cy="187.3" r="1.05"/><circle cx="495.6" cy="187.0" r="1.05"/><circle cx="499.0" cy="186.5" r="1.05"/><circle cx="502.3" cy="184.0" r="1.05"/><circle cx="506.0" cy="179.0" r="1.05"/><circle cx="509.1" cy="177.2" r="1.05"/><circle cx="512.6" cy="181.0" r="1.05"/><circle cx="515.9" cy="178.8" r="1.05"/><circle cx="519.2" cy="178.3" r="1.05"/><circle cx="522.7" cy="174.5" r="1.05"/><circle cx="526.0" cy="171.5" r="1.05"/><circle cx="529.2" cy="172.8" r="1.05"/><circle cx="530.0" cy="168.4" r="1.05"/><circle cx="532.9" cy="164.2" r="1.05"/><circle cx="535.8" cy="160.0" r="1.05"/><circle cx="539.2" cy="160.9" r="1.05"/><circle cx="542.5" cy="165.0" r="1.05"/><circle cx="545.9" cy="173.4" r="1.05"/><circle cx="548.9" cy="178.4" r="1.05"/><circle cx="552.2" cy="166.7" r="1.05"/><circle cx="555.5" cy="137.5" r="1.05"/><circle cx="558.9" cy="141.7" r="1.05"/><circle cx="562.2" cy="130.0" r="1.05"/><circle cx="565.5" cy="115.4" r="1.05"/><circle cx="569.2" cy="122.6" r="1.05"/><circle cx="572.6" cy="130.0" r="1.05"/><circle cx="575.6" cy="149.2" r="1.05"/><circle cx="578.9" cy="153.0" r="1.05"/><circle cx="582.3" cy="145.0" r="1.05"/><circle cx="585.6" cy="151.7" r="1.05"/><circle cx="589.0" cy="163.8" r="1.05"/><circle cx="592.3" cy="166.5" r="1.05"/><circle cx="595.7" cy="160.7" r="1.05"/><circle cx="599.0" cy="170.5" r="1.05"/><circle cx="602.4" cy="172.8" r="1.05"/><circle cx="605.7" cy="168.7" r="1.05"/><circle cx="609.0" cy="172.1" r="1.05"/><circle cx="612.4" cy="178.8" r="1.05"/><circle cx="615.7" cy="180.4" r="1.05"/><circle cx="619.1" cy="178.1" r="1.05"/><circle cx="622.4" cy="183.0" r="1.05"/><circle cx="625.7" cy="184.4" r="1.05"/><circle cx="629.1" cy="183.4" r="1.05"/><circle cx="632.4" cy="186.1" r="1.05"/><circle cx="635.8" cy="187.1" r="1.05"/><circle cx="639.1" cy="187.5" r="1.05"/><circle cx="642.4" cy="190.1" r="1.05"/><circle cx="645.8" cy="190.8" r="1.05"/><circle cx="649.1" cy="191.5" r="1.05"/></g>
<g fill="#2a2aff" ><circle cx="425.6" cy="190.4" r="1.05"/><circle cx="429.1" cy="184.8" r="1.05"/><circle cx="432.2" cy="191.4" r="1.05"/><circle cx="435.5" cy="191.2" r="1.05"/><circle cx="438.8" cy="190.9" r="1.05"/><circle cx="442.2" cy="190.7" r="1.05"/><circle cx="445.5" cy="190.4" r="1.05"/><circle cx="448.8" cy="190.2" r="1.05"/><circle cx="452.4" cy="159.1" r="1.05"/><circle cx="455.8" cy="114.2" r="1.05"/><circle cx="459.0" cy="147.0" r="1.05"/><circle cx="462.5" cy="176.5" r="1.05"/><circle cx="465.5" cy="180.1" r="1.05"/><circle cx="469.0" cy="183.7" r="1.05"/><circle cx="472.6" cy="181.0" r="1.05"/><circle cx="475.2" cy="180.4" r="1.05"/><circle cx="479.0" cy="180.4" r="1.05"/><circle cx="482.4" cy="181.1" r="1.05"/><circle cx="485.7" cy="181.8" r="1.05"/><circle cx="489.1" cy="180.9" r="1.05"/><circle cx="492.5" cy="180.0" r="1.05"/><circle cx="495.6" cy="178.8" r="1.05"/><circle cx="499.0" cy="180.0" r="1.05"/><circle cx="502.3" cy="178.8" r="1.05"/><circle cx="506.0" cy="172.3" r="1.05"/><circle cx="509.1" cy="169.0" r="1.05"/><circle cx="512.6" cy="172.6" r="1.05"/><circle cx="515.9" cy="169.3" r="1.05"/><circle cx="519.2" cy="169.0" r="1.05"/><circle cx="522.7" cy="163.4" r="1.05"/><circle cx="526.0" cy="160.3" r="1.05"/><circle cx="529.2" cy="161.2" r="1.05"/><circle cx="532.5" cy="153.5" r="1.05"/><circle cx="535.8" cy="148.7" r="1.05"/><circle cx="539.2" cy="150.4" r="1.05"/><circle cx="542.5" cy="159.2" r="1.05"/><circle cx="545.9" cy="167.6" r="1.05"/><circle cx="548.9" cy="163.4" r="1.05"/><circle cx="552.2" cy="150.0" r="1.05"/><circle cx="555.5" cy="132.0" r="1.05"/><circle cx="558.9" cy="136.7" r="1.05"/><circle cx="562.5" cy="104.3" r="1.05"/><circle cx="565.5" cy="91.7" r="1.05"/><circle cx="569.2" cy="80.9" r="1.05"/><circle cx="572.5" cy="87.6" r="1.05"/><circle cx="575.9" cy="119.3" r="1.05"/><circle cx="579.2" cy="123.5" r="1.05"/><circle cx="582.6" cy="110.1" r="1.05"/><circle cx="585.9" cy="118.4" r="1.05"/><circle cx="589.0" cy="142.0" r="1.05"/><circle cx="592.3" cy="145.3" r="1.05"/><circle cx="595.7" cy="134.7" r="1.05"/><circle cx="599.0" cy="152.0" r="1.05"/><circle cx="602.4" cy="155.0" r="1.05"/><circle cx="605.7" cy="146.4" r="1.05"/><circle cx="609.0" cy="151.0" r="1.05"/><circle cx="612.4" cy="163.8" r="1.05"/><circle cx="615.7" cy="165.7" r="1.05"/><circle cx="619.1" cy="160.0" r="1.05"/><circle cx="622.4" cy="170.1" r="1.05"/><circle cx="625.7" cy="171.8" r="1.05"/><circle cx="629.1" cy="166.7" r="1.05"/><circle cx="632.4" cy="174.5" r="1.05"/><circle cx="635.8" cy="176.1" r="1.05"/><circle cx="639.1" cy="172.1" r="1.05"/><circle cx="642.4" cy="178.5" r="1.05"/><circle cx="645.8" cy="179.8" r="1.05"/><circle cx="649.1" cy="180.1" r="1.05"/><circle cx="652.5" cy="181.2" r="1.05"/><circle cx="655.8" cy="178.8" r="1.05"/><circle cx="659.1" cy="183.0" r="1.05"/></g>
<g fill="#9a2a9a" ><circle cx="422.6" cy="188.9" r="1.05"/><circle cx="425.6" cy="172.4" r="1.05"/><circle cx="429.1" cy="176.3" r="1.05"/><circle cx="432.2" cy="177.0" r="1.05"/><circle cx="435.7" cy="180.0" r="1.05"/><circle cx="439.0" cy="177.3" r="1.05"/><circle cx="442.3" cy="171.7" r="1.05"/><circle cx="445.6" cy="169.7" r="1.05"/><circle cx="448.8" cy="173.0" r="1.05"/><circle cx="452.4" cy="175.8" r="1.05"/><circle cx="455.9" cy="177.0" r="1.05"/><circle cx="459.0" cy="181.3" r="1.05"/><circle cx="462.5" cy="184.8" r="1.05"/><circle cx="465.5" cy="185.4" r="1.05"/><circle cx="469.0" cy="187.6" r="1.05"/><circle cx="472.6" cy="185.9" r="1.05"/><circle cx="475.6" cy="184.8" r="1.05"/><circle cx="479.6" cy="182.8" r="1.05"/><circle cx="483.0" cy="181.3" r="1.05"/><circle cx="485.7" cy="182.0" r="1.05"/><circle cx="489.1" cy="181.5" r="1.05"/><circle cx="492.5" cy="181.0" r="1.05"/><circle cx="495.6" cy="179.5" r="1.05"/><circle cx="499.0" cy="180.5" r="1.05"/><circle cx="502.3" cy="179.5" r="1.05"/><circle cx="506.0" cy="174.0" r="1.05"/><circle cx="509.1" cy="171.5" r="1.05"/><circle cx="512.6" cy="175.0" r="1.05"/><circle cx="515.9" cy="172.0" r="1.05"/><circle cx="519.2" cy="171.3" r="1.05"/><circle cx="522.7" cy="166.0" r="1.05"/><circle cx="526.0" cy="163.0" r="1.05"/><circle cx="529.2" cy="164.0" r="1.05"/><circle cx="530.0" cy="160.0" r="1.05"/><circle cx="532.9" cy="157.3" r="1.05"/><circle cx="535.8" cy="154.7" r="1.05"/><circle cx="539.2" cy="155.9" r="1.05"/><circle cx="542.5" cy="164.2" r="1.05"/><circle cx="555.5" cy="155.0" r="1.05"/><circle cx="558.9" cy="145.0" r="1.05"/><circle cx="562.2" cy="126.7" r="1.05"/><circle cx="565.5" cy="80.9" r="1.05"/><circle cx="569.2" cy="77.5" r="1.05"/><circle cx="572.5" cy="83.4" r="1.05"/><circle cx="575.9" cy="118.8" r="1.05"/><circle cx="579.2" cy="123.0" r="1.05"/><circle cx="582.6" cy="109.7" r="1.05"/><circle cx="585.9" cy="118.0" r="1.05"/><circle cx="589.0" cy="143.0" r="1.05"/><circle cx="592.3" cy="146.6" r="1.05"/><circle cx="595.7" cy="136.0" r="1.05"/><circle cx="599.0" cy="153.3" r="1.05"/><circle cx="602.4" cy="157.5" r="1.05"/><circle cx="605.7" cy="150.5" r="1.05"/><circle cx="609.0" cy="155.5" r="1.05"/></g>
<g fill="#2c2cb0" ><circle cx="421.0" cy="192.3" r="1.05"/><circle cx="422.6" cy="192.3" r="1.05"/><circle cx="425.6" cy="185.4" r="1.05"/><circle cx="429.1" cy="176.8" r="1.05"/><circle cx="432.2" cy="181.8" r="1.05"/><circle cx="435.7" cy="180.1" r="1.05"/><circle cx="439.0" cy="182.3" r="1.05"/><circle cx="442.3" cy="180.8" r="1.05"/><circle cx="445.6" cy="179.5" r="1.05"/><circle cx="448.8" cy="180.8" r="1.05"/><circle cx="452.4" cy="182.3" r="1.05"/><circle cx="455.9" cy="186.2" r="1.05"/><circle cx="459.0" cy="192.3" r="1.05"/><circle cx="462.5" cy="192.3" r="1.05"/><circle cx="466.0" cy="192.3" r="1.05"/><circle cx="469.5" cy="192.3" r="1.05"/><circle cx="473.0" cy="192.3" r="1.05"/><circle cx="476.5" cy="192.3" r="1.05"/><circle cx="480.1" cy="192.3" r="1.05"/><circle cx="483.6" cy="192.3" r="1.05"/><circle cx="487.1" cy="192.3" r="1.05"/><circle cx="490.6" cy="192.3" r="1.05"/><circle cx="494.1" cy="192.3" r="1.05"/><circle cx="497.6" cy="192.3" r="1.05"/><circle cx="500.6" cy="189.3" r="1.05"/><circle cx="503.4" cy="185.6" r="1.05"/><circle cx="506.0" cy="182.5" r="1.05"/><circle cx="509.1" cy="179.7" r="1.05"/><circle cx="512.6" cy="181.9" r="1.05"/><circle cx="515.9" cy="178.0" r="1.05"/><circle cx="519.2" cy="177.0" r="1.05"/><circle cx="522.7" cy="172.0" r="1.05"/><circle cx="526.0" cy="165.0" r="1.05"/><circle cx="529.2" cy="164.0" r="1.05"/><circle cx="532.5" cy="157.0" r="1.05"/><circle cx="535.8" cy="151.0" r="1.05"/><circle cx="539.2" cy="153.0" r="1.05"/><circle cx="542.6" cy="165.0" r="1.05"/><circle cx="545.9" cy="178.0" r="1.05"/><circle cx="548.9" cy="184.0" r="1.05"/><circle cx="552.2" cy="170.0" r="1.05"/><circle cx="555.5" cy="134.0" r="1.05"/><circle cx="558.9" cy="138.0" r="1.05"/><circle cx="562.5" cy="100.0" r="1.05"/><circle cx="565.5" cy="60.4" r="1.05"/><circle cx="569.2" cy="70.9" r="1.05"/><circle cx="572.5" cy="83.4" r="1.05"/><circle cx="575.9" cy="118.4" r="1.05"/><circle cx="579.2" cy="122.6" r="1.05"/><circle cx="582.6" cy="109.3" r="1.05"/><circle cx="585.9" cy="117.6" r="1.05"/><circle cx="589.0" cy="144.0" r="1.05"/><circle cx="592.3" cy="148.0" r="1.05"/><circle cx="595.7" cy="137.0" r="1.05"/><circle cx="599.0" cy="154.7" r="1.05"/><circle cx="602.4" cy="160.0" r="1.05"/><circle cx="605.7" cy="154.0" r="1.05"/><circle cx="609.0" cy="160.0" r="1.05"/><circle cx="612.4" cy="172.1" r="1.05"/><circle cx="615.7" cy="174.5" r="1.05"/><circle cx="619.1" cy="170.5" r="1.05"/><circle cx="622.4" cy="178.8" r="1.05"/><circle cx="625.7" cy="182.1" r="1.05"/><circle cx="629.1" cy="183.0" r="1.05"/><circle cx="632.4" cy="186.1" r="1.05"/><circle cx="635.8" cy="187.5" r="1.05"/><circle cx="639.1" cy="189.7" r="1.05"/><circle cx="642.4" cy="192.4" r="1.05"/><circle cx="645.8" cy="192.4" r="1.05"/><circle cx="649.1" cy="192.4" r="1.05"/><circle cx="652.5" cy="192.4" r="1.05"/></g>
<g fill="#ff2222" ><circle cx="425.6" cy="184.8" r="1.05"/><circle cx="429.1" cy="176.0" r="1.05"/><circle cx="432.2" cy="179.3" r="1.05"/><circle cx="435.7" cy="180.3" r="1.05"/><circle cx="439.0" cy="181.1" r="1.05"/><circle cx="442.3" cy="179.3" r="1.05"/><circle cx="445.6" cy="177.8" r="1.05"/><circle cx="448.8" cy="178.0" r="1.05"/><circle cx="452.4" cy="180.1" r="1.05"/><circle cx="455.9" cy="182.8" r="1.05"/><circle cx="459.0" cy="184.8" r="1.05"/><circle cx="462.5" cy="186.9" r="1.05"/><circle cx="465.5" cy="188.9" r="1.05"/><circle cx="469.0" cy="191.2" r="1.05"/><circle cx="472.6" cy="189.4" r="1.05"/><circle cx="475.6" cy="187.9" r="1.05"/><circle cx="479.6" cy="186.4" r="1.05"/><circle cx="483.0" cy="185.4" r="1.05"/><circle cx="485.7" cy="185.2" r="1.05"/><circle cx="489.1" cy="185.1" r="1.05"/><circle cx="492.5" cy="185.0" r="1.05"/><circle cx="495.6" cy="184.5" r="1.05"/><circle cx="499.0" cy="184.0" r="1.05"/><circle cx="502.3" cy="182.0" r="1.05"/><circle cx="506.0" cy="178.0" r="1.05"/><circle cx="509.1" cy="176.0" r="1.05"/><circle cx="512.6" cy="179.5" r="1.05"/><circle cx="515.9" cy="177.5" r="1.05"/><circle cx="519.2" cy="177.0" r="1.05"/><circle cx="522.7" cy="174.5" r="1.05"/><circle cx="526.0" cy="171.5" r="1.05"/><circle cx="529.2" cy="172.5" r="1.05"/><circle cx="530.0" cy="170.0" r="1.05"/><circle cx="532.9" cy="168.8" r="1.05"/><circle cx="535.8" cy="167.6" r="1.05"/><circle cx="539.2" cy="169.2" r="1.05"/><circle cx="542.5" cy="174.8" r="1.05"/><circle cx="545.9" cy="183.4" r="1.05"/><circle cx="548.9" cy="184.8" r="1.05"/><circle cx="552.2" cy="180.9" r="1.05"/><circle cx="555.5" cy="170.1" r="1.05"/><circle cx="558.9" cy="169.2" r="1.05"/><circle cx="562.2" cy="163.4" r="1.05"/><circle cx="565.6" cy="146.7" r="1.05"/><circle cx="569.2" cy="142.5" r="1.05"/><circle cx="572.6" cy="146.7" r="1.05"/><circle cx="575.6" cy="160.9" r="1.05"/><circle cx="578.9" cy="164.2" r="1.05"/><circle cx="582.3" cy="158.7" r="1.05"/><circle cx="585.6" cy="165.1" r="1.05"/><circle cx="589.0" cy="173.4" r="1.05"/><circle cx="592.3" cy="175.8" r="1.05"/><circle cx="595.7" cy="172.1" r="1.05"/><circle cx="599.0" cy="178.8" r="1.05"/><circle cx="602.4" cy="180.8" r="1.05"/><circle cx="605.7" cy="179.4" r="1.05"/><circle cx="609.0" cy="182.8" r="1.05"/><circle cx="612.4" cy="186.1" r="1.05"/><circle cx="615.7" cy="187.9" r="1.05"/><circle cx="619.1" cy="187.1" r="1.05"/><circle cx="622.4" cy="190.1" r="1.05"/><circle cx="625.7" cy="191.5" r="1.05"/></g>
<g fill="#b02a2a" ><circle cx="645.8" cy="190.8" r="1.05"/><circle cx="649.1" cy="191.5" r="1.05"/><circle cx="652.5" cy="191.9" r="1.05"/><circle cx="655.8" cy="192.4" r="1.05"/><circle cx="659.1" cy="192.4" r="1.05"/></g>
<g fill="#2a2aff" ><circle cx="383.2" cy="192.3" r="1.15"/><circle cx="386.5" cy="192.3" r="1.15"/><circle cx="389.8" cy="192.3" r="1.15"/><circle cx="406.3" cy="192.3" r="1.15"/><circle cx="409.6" cy="192.3" r="1.15"/><circle cx="412.9" cy="192.3" r="1.15"/><circle cx="416.2" cy="192.3" r="1.15"/><circle cx="419.5" cy="192.3" r="1.15"/></g>
<g fill="#2a2aff" ><circle cx="432.2" cy="191.7" r="1.1"/><circle cx="435.5" cy="191.7" r="1.1"/><circle cx="438.9" cy="191.7" r="1.1"/><circle cx="442.2" cy="191.7" r="1.1"/><circle cx="445.5" cy="191.7" r="1.1"/><circle cx="448.8" cy="191.7" r="1.1"/></g>
</g>
<rect x="418" y="101" width="52.6" height="93.6" fill="none" stroke="#ff3c3c" stroke-width="1.6" stroke-dasharray="2.5,2"/>
<rect x="382.2" y="4.0" width="277.8" height="192.7" fill="none" stroke="#3a3a3a" stroke-width="1.4"/>
<line x1="382.2" y1="192.3" x2="384.8" y2="192.3" stroke="#222" stroke-width="0.9"/>
<text x="377.6" y="195.9" font-size="10" text-anchor="end" fill="#1a1a1a" stroke="#1a1a1a" >0.0</text>
<line x1="382.2" y1="147.4" x2="384.8" y2="147.4" stroke="#222" stroke-width="0.9"/>
<text x="377.6" y="151.0" font-size="10" text-anchor="end" fill="#1a1a1a" stroke="#1a1a1a" >0.3</text>
<line x1="382.2" y1="102.5" x2="384.8" y2="102.5" stroke="#222" stroke-width="0.9"/>
<text x="377.6" y="106.1" font-size="10" text-anchor="end" fill="#1a1a1a" stroke="#1a1a1a" >0.5</text>
<line x1="382.2" y1="57.6" x2="384.8" y2="57.6" stroke="#222" stroke-width="0.9"/>
<text x="377.6" y="61.2" font-size="10" text-anchor="end" fill="#1a1a1a" stroke="#1a1a1a" >0.8</text>
<line x1="382.2" y1="12.7" x2="384.8" y2="12.7" stroke="#222" stroke-width="0.9"/>
<text x="377.6" y="16.3" font-size="10" text-anchor="end" fill="#1a1a1a" stroke="#1a1a1a" >1.0</text>
<line x1="389.0" y1="196.7" x2="389.0" y2="194.9" stroke="#222" stroke-width="0.9"/>
<line x1="395.7" y1="196.7" x2="395.7" y2="194.9" stroke="#222" stroke-width="0.9"/>
<line x1="401.6" y1="196.7" x2="401.6" y2="194.9" stroke="#222" stroke-width="0.9"/>
<line x1="406.7" y1="196.7" x2="406.7" y2="194.9" stroke="#222" stroke-width="0.9"/>
<line x1="411.3" y1="196.7" x2="411.3" y2="193.5" stroke="#222" stroke-width="0.9"/>
<line x1="441.6" y1="196.7" x2="441.6" y2="194.9" stroke="#222" stroke-width="0.9"/>
<line x1="459.3" y1="196.7" x2="459.3" y2="194.9" stroke="#222" stroke-width="0.9"/>
<line x1="471.8" y1="196.7" x2="471.8" y2="194.9" stroke="#222" stroke-width="0.9"/>
<line x1="481.5" y1="196.7" x2="481.5" y2="194.9" stroke="#222" stroke-width="0.9"/>
<line x1="489.5" y1="196.7" x2="489.5" y2="194.9" stroke="#222" stroke-width="0.9"/>
<line x1="496.2" y1="196.7" x2="496.2" y2="194.9" stroke="#222" stroke-width="0.9"/>
<line x1="502.1" y1="196.7" x2="502.1" y2="194.9" stroke="#222" stroke-width="0.9"/>
<line x1="507.2" y1="196.7" x2="507.2" y2="194.9" stroke="#222" stroke-width="0.9"/>
<line x1="511.8" y1="196.7" x2="511.8" y2="193.5" stroke="#222" stroke-width="0.9"/>
<line x1="542.1" y1="196.7" x2="542.1" y2="194.9" stroke="#222" stroke-width="0.9"/>
<line x1="559.8" y1="196.7" x2="559.8" y2="194.9" stroke="#222" stroke-width="0.9"/>
<line x1="572.3" y1="196.7" x2="572.3" y2="194.9" stroke="#222" stroke-width="0.9"/>
<line x1="582.0" y1="196.7" x2="582.0" y2="194.9" stroke="#222" stroke-width="0.9"/>
<line x1="590.0" y1="196.7" x2="590.0" y2="194.9" stroke="#222" stroke-width="0.9"/>
<line x1="596.7" y1="196.7" x2="596.7" y2="194.9" stroke="#222" stroke-width="0.9"/>
<line x1="602.6" y1="196.7" x2="602.6" y2="194.9" stroke="#222" stroke-width="0.9"/>
<line x1="607.7" y1="196.7" x2="607.7" y2="194.9" stroke="#222" stroke-width="0.9"/>
<line x1="612.3" y1="196.7" x2="612.3" y2="193.5" stroke="#222" stroke-width="0.9"/>
<line x1="642.6" y1="196.7" x2="642.6" y2="194.9" stroke="#222" stroke-width="0.9"/>
<text x="410.4" y="209.0" font-size="10" text-anchor="middle" fill="#1a1a1a" stroke="#1a1a1a" >1</text>
<text x="508.8" y="209.0" font-size="10" text-anchor="middle" fill="#1a1a1a" stroke="#1a1a1a" >10</text>
<text x="607.0" y="209.0" font-size="10" text-anchor="middle" fill="#1a1a1a" stroke="#1a1a1a" >100</text>
<text x="508.2" y="222.0" font-size="10.05" text-anchor="middle" fill="#1a1a1a" stroke="#1a1a1a" >Pore size (nm)</text>
<text transform="translate(359.5,99.9) rotate(-90)" font-size="10.2" text-anchor="middle" fill="#1a1a1a" stroke="#1a1a1a">dV/d(logD) (cm<tspan font-size="6.9" dy="-3.4">3</tspan><tspan dy="3.4" font-size="1">&#8203;</tspan> g<tspan font-size="6.9" dy="-3.4">-1</tspan><tspan dy="3.4" font-size="1">&#8203;</tspan>)</text>
<text x="343.0" y="13.3" font-size="13.2" text-anchor="start" fill="#1a1a1a" stroke="#1a1a1a" >(B)</text>
<rect x="432" y="6" width="104" height="90" fill="#fff"/>
<line x1="434.2" y1="11.9" x2="455.0" y2="11.9" stroke="#2a2a2a" stroke-width="0.85"/>
<g fill="#2a2a2a" ><circle cx="444.3" cy="11.9" r="1.0"/></g>
<text x="457.5" y="15.1" font-size="8.85" text-anchor="start" fill="#1a1a1a" stroke="#1a1a1a" >HhNS</text>
<line x1="434.2" y1="23.3" x2="455.0" y2="23.3" stroke="#b02a2a" stroke-width="0.85"/>
<g fill="#b02a2a" ><circle cx="444.3" cy="23.3" r="1.0"/></g>
<text x="457.5" y="26.5" font-size="8.85" text-anchor="start" fill="#1a1a1a" stroke="#1a1a1a" >Cu<tspan font-size="5.6" dy="2.6" letter-spacing="0">2.5</tspan><tspan dy="-2.6" font-size="1">&#8203;</tspan>-Fe<tspan font-size="5.6" dy="2.6" letter-spacing="0">2.2</tspan><tspan dy="-2.6" font-size="1">&#8203;</tspan>/HhNS</text>
<line x1="434.2" y1="36.3" x2="455.0" y2="36.3" stroke="#9c9c1e" stroke-width="0.85"/>
<g fill="#9c9c1e" ><circle cx="444.3" cy="36.3" r="1.0"/></g>
<text x="457.5" y="39.5" font-size="8.85" text-anchor="start" fill="#1a1a1a" stroke="#1a1a1a" >Cu<tspan font-size="5.6" dy="2.6" letter-spacing="0">2.5</tspan><tspan dy="-2.6" font-size="1">&#8203;</tspan>@HhNS</text>
<line x1="434.2" y1="49.4" x2="455.0" y2="49.4" stroke="#2a2aff" stroke-width="0.85"/>
<g fill="#2a2aff" ><circle cx="444.3" cy="49.4" r="1.0"/></g>
<text x="459.3" y="52.6" font-size="8.85" text-anchor="start" fill="#1a1a1a" stroke="#1a1a1a" >Fe<tspan font-size="5.6" dy="2.6" letter-spacing="0">2.2</tspan><tspan dy="-2.6" font-size="1">&#8203;</tspan>/Cu<tspan font-size="5.6" dy="2.6" letter-spacing="0">2.5</tspan><tspan dy="-2.6" font-size="1">&#8203;</tspan>@HhNS</text>
<line x1="434.2" y1="62.5" x2="455.0" y2="62.5" stroke="#9a2a9a" stroke-width="0.85"/>
<g fill="#9a2a9a" ><circle cx="444.3" cy="62.5" r="1.0"/></g>
<text x="457.5" y="65.7" font-size="8.85" text-anchor="start" fill="#1a1a1a" stroke="#1a1a1a" >Fe<tspan font-size="5.6" dy="2.6" letter-spacing="0">2.2</tspan><tspan dy="-2.6" font-size="1">&#8203;</tspan>@HhNS</text>
<line x1="434.2" y1="75.5" x2="455.0" y2="75.5" stroke="#2c2cb0" stroke-width="0.85"/>
<g fill="#2c2cb0" ><circle cx="444.3" cy="75.5" r="1.0"/></g>
<text x="457.5" y="78.7" font-size="8.85" text-anchor="start" fill="#1a1a1a" stroke="#1a1a1a" >Cu<tspan font-size="5.6" dy="2.6" letter-spacing="0">2.5</tspan><tspan dy="-2.6" font-size="1">&#8203;</tspan>/Fe<tspan font-size="5.6" dy="2.6" letter-spacing="0">2.2</tspan><tspan dy="-2.6" font-size="1">&#8203;</tspan>@HhNS</text>
<line x1="434.2" y1="88.5" x2="455.0" y2="88.5" stroke="#ff2222" stroke-width="0.85"/>
<g fill="#ff2222" ><circle cx="444.3" cy="88.5" r="1.0"/></g>
<text x="457.5" y="91.7" font-size="8.85" text-anchor="start" fill="#1a1a1a" stroke="#1a1a1a" >Cu<tspan font-size="5.6" dy="2.6" letter-spacing="0">2.5</tspan><tspan dy="-2.6" font-size="1">&#8203;</tspan>-Fe<tspan font-size="5.6" dy="2.6" letter-spacing="0">2.2</tspan><tspan dy="-2.6" font-size="1">&#8203;</tspan>@HhNS</text>
<rect x="46.2" y="235.0" width="285.5" height="189.10000000000002" fill="none" stroke="#333" stroke-width="1.25"/>
<rect x="53.5" y="395.4" width="14.2" height="29.0" fill="#818181" stroke="#a8a882" stroke-width="0.7"/>
<text x="61.2" y="438.9" font-size="10.6" text-anchor="middle" fill="#1a1a1a" stroke="#1a1a1a" >a</text>
<rect x="82.1" y="361.0" width="14.2" height="63.4" fill="#818181" stroke="#a8a882" stroke-width="0.7"/>
<text x="88.8" y="438.1" font-size="10.6" text-anchor="middle" fill="#1a1a1a" stroke="#1a1a1a" >b</text>
<rect x="110.6" y="340.0" width="14.2" height="84.4" fill="#818181" stroke="#a8a882" stroke-width="0.7"/>
<text x="116.9" y="438.9" font-size="10.6" text-anchor="middle" fill="#1a1a1a" stroke="#1a1a1a" >c</text>
<rect x="139.2" y="361.0" width="14.2" height="63.4" fill="#818181" stroke="#a8a882" stroke-width="0.7"/>
<text x="145.1" y="439.5" font-size="10.6" text-anchor="middle" fill="#1a1a1a" stroke="#1a1a1a" >d</text>
<rect x="167.7" y="297.9" width="14.2" height="126.5" fill="#818181" stroke="#a8a882" stroke-width="0.7"/>
<text x="172.8" y="439.1" font-size="10.6" text-anchor="middle" fill="#1a1a1a" stroke="#1a1a1a" >e</text>
<rect x="196.2" y="318.9" width="14.2" height="105.5" fill="#818181" stroke="#a8a882" stroke-width="0.7"/>
<text x="201.5" y="438.9" font-size="10.6" text-anchor="middle" fill="#1a1a1a" stroke="#1a1a1a" >f</text>
<rect x="224.8" y="284.9" width="14.2" height="139.5" fill="#818181" stroke="#a8a882" stroke-width="0.7"/>
<text x="232.1" y="438.3" font-size="10.6" text-anchor="middle" fill="#1a1a1a" stroke="#1a1a1a" >g</text>
<rect x="253.3" y="255.9" width="14.2" height="168.5" fill="#818181" stroke="#a8a882" stroke-width="0.7"/>
<text x="260.3" y="438.9" font-size="10.6" text-anchor="middle" fill="#1a1a1a" stroke="#1a1a1a" >h</text>
<rect x="281.9" y="288.9" width="14.2" height="135.5" fill="#818181" stroke="#a8a882" stroke-width="0.7"/>
<text x="288.5" y="438.7" font-size="10.6" text-anchor="middle" fill="#1a1a1a" stroke="#1a1a1a" >i</text>
<rect x="310.4" y="255.9" width="14.2" height="168.5" fill="#818181" stroke="#a8a882" stroke-width="0.7"/>
<text x="317.7" y="438.9" font-size="10.6" text-anchor="middle" fill="#1a1a1a" stroke="#1a1a1a" >j</text>
<line x1="46.2" y1="403.0" x2="49.4" y2="403.0" stroke="#222" stroke-width="0.9"/>
<text x="41.6" y="406.4" font-size="9.5" text-anchor="end" fill="#1a1a1a" stroke="#1a1a1a" >0.08</text>
<line x1="46.2" y1="361.0" x2="49.4" y2="361.0" stroke="#222" stroke-width="0.9"/>
<text x="41.6" y="364.4" font-size="9.5" text-anchor="end" fill="#1a1a1a" stroke="#1a1a1a" >0.10</text>
<line x1="46.2" y1="318.9" x2="49.4" y2="318.9" stroke="#222" stroke-width="0.9"/>
<text x="41.6" y="322.4" font-size="9.5" text-anchor="end" fill="#1a1a1a" stroke="#1a1a1a" >0.12</text>
<line x1="46.2" y1="276.9" x2="49.4" y2="276.9" stroke="#222" stroke-width="0.9"/>
<text x="41.6" y="280.4" font-size="9.5" text-anchor="end" fill="#1a1a1a" stroke="#1a1a1a" >0.14</text>
<text x="41.6" y="238.3" font-size="9.5" text-anchor="end" fill="#1a1a1a" stroke="#1a1a1a" >0.16</text>
<line x1="46.2" y1="382.0" x2="48.0" y2="382.0" stroke="#222" stroke-width="0.9"/>
<line x1="46.2" y1="340.0" x2="48.0" y2="340.0" stroke="#222" stroke-width="0.9"/>
<line x1="46.2" y1="297.9" x2="48.0" y2="297.9" stroke="#222" stroke-width="0.9"/>
<line x1="46.2" y1="255.9" x2="48.0" y2="255.9" stroke="#222" stroke-width="0.9"/>
<text x="189.5" y="452.0" font-size="10.6" text-anchor="middle" fill="#1a1a1a" stroke="#1a1a1a" >Catalyst</text>
<text transform="translate(17.9,329.8) rotate(-90)" font-size="10.6" text-anchor="middle" fill="#1a1a1a" stroke="#1a1a1a">Hierarchy factor</text>
<text x="-0.5" y="239.0" font-size="13.2" text-anchor="start" fill="#1a1a1a" stroke="#1a1a1a" >(C)</text>
<defs><marker id="ah" markerWidth="8" markerHeight="6" refX="7" refY="3" orient="auto" markerUnits="userSpaceOnUse"><path d="M0.6,1.0 L7.5,3 L0.6,5.0 Z" fill="#111"/></marker><marker id="ah2" markerWidth="8" markerHeight="6" refX="6.5" refY="3" orient="auto" markerUnits="userSpaceOnUse"><path d="M0,1.2 L6.8,3 L0,4.8 Z" fill="#111"/></marker><marker id="ahb" markerWidth="8" markerHeight="6" refX="7" refY="3" orient="auto" markerUnits="userSpaceOnUse"><path d="M0,0.8 L7.5,3 L0,5.2 Z" fill="#2a2aff"/></marker></defs>
<line x1="87" y1="332" x2="168" y2="287.3" stroke="#111" stroke-width="1.3" marker-end="url(#ah)"/>
<line x1="375.6" y1="233.5" x2="642.0" y2="233.5" stroke="#333" stroke-width="1.25"/>
<line x1="375.6" y1="232.9" x2="375.6" y2="423.0" stroke="#333" stroke-width="1.25"/>
<line x1="375.0" y1="422.4" x2="642.6" y2="422.4" stroke="#333" stroke-width="1.25"/>
<line x1="642.0" y1="233.0" x2="642.0" y2="422.9" stroke="#1c1cff" stroke-width="1.35"/>
<text x="375.6" y="434.4" font-size="9.65" text-anchor="middle" fill="#1a1a1a" stroke="#1a1a1a" >0.09</text>
<line x1="413.6" y1="422.4" x2="413.6" y2="419.2" stroke="#222" stroke-width="0.9"/>
<text x="413.6" y="434.4" font-size="9.65" text-anchor="middle" fill="#1a1a1a" stroke="#1a1a1a" >0.10</text>
<line x1="451.7" y1="422.4" x2="451.7" y2="419.2" stroke="#222" stroke-width="0.9"/>
<text x="451.7" y="434.4" font-size="9.65" text-anchor="middle" fill="#1a1a1a" stroke="#1a1a1a" >0.11</text>
<line x1="489.8" y1="422.4" x2="489.8" y2="419.2" stroke="#222" stroke-width="0.9"/>
<text x="489.8" y="434.4" font-size="9.65" text-anchor="middle" fill="#1a1a1a" stroke="#1a1a1a" >0.12</text>
<line x1="527.8" y1="422.4" x2="527.8" y2="419.2" stroke="#222" stroke-width="0.9"/>
<text x="527.8" y="434.4" font-size="9.65" text-anchor="middle" fill="#1a1a1a" stroke="#1a1a1a" >0.13</text>
<line x1="565.9" y1="422.4" x2="565.9" y2="419.2" stroke="#222" stroke-width="0.9"/>
<text x="565.9" y="434.4" font-size="9.65" text-anchor="middle" fill="#1a1a1a" stroke="#1a1a1a" >0.14</text>
<line x1="603.9" y1="422.4" x2="603.9" y2="419.2" stroke="#222" stroke-width="0.9"/>
<text x="603.9" y="434.4" font-size="9.65" text-anchor="middle" fill="#1a1a1a" stroke="#1a1a1a" >0.15</text>
<text x="642.0" y="434.4" font-size="9.65" text-anchor="middle" fill="#1a1a1a" stroke="#1a1a1a" >0.16</text>
<line x1="375.6" y1="412.4" x2="378.8" y2="412.4" stroke="#222" stroke-width="0.9"/>
<text x="371.5" y="416.0" font-size="10" text-anchor="end" fill="#1a1a1a" stroke="#1a1a1a" >0</text>
<line x1="375.6" y1="372.6" x2="378.8" y2="372.6" stroke="#222" stroke-width="0.9"/>
<text x="371.5" y="376.2" font-size="10" text-anchor="end" fill="#1a1a1a" stroke="#1a1a1a" >10</text>
<line x1="375.6" y1="332.8" x2="378.8" y2="332.8" stroke="#222" stroke-width="0.9"/>
<text x="371.5" y="336.4" font-size="10" text-anchor="end" fill="#1a1a1a" stroke="#1a1a1a" >20</text>
<line x1="375.6" y1="293.0" x2="378.8" y2="293.0" stroke="#222" stroke-width="0.9"/>
<text x="371.5" y="296.6" font-size="10" text-anchor="end" fill="#1a1a1a" stroke="#1a1a1a" >30</text>
<line x1="375.6" y1="253.2" x2="378.8" y2="253.2" stroke="#222" stroke-width="0.9"/>
<text x="371.5" y="256.8" font-size="10" text-anchor="end" fill="#1a1a1a" stroke="#1a1a1a" >40</text>
<line x1="375.6" y1="392.5" x2="377.4" y2="392.5" stroke="#222" stroke-width="0.9"/>
<line x1="375.6" y1="352.7" x2="377.4" y2="352.7" stroke="#222" stroke-width="0.9"/>
<line x1="375.6" y1="312.9" x2="377.4" y2="312.9" stroke="#222" stroke-width="0.9"/>
<line x1="375.6" y1="273.1" x2="377.4" y2="273.1" stroke="#222" stroke-width="0.9"/>
<line x1="642.0" y1="402.1" x2="638.8" y2="402.1" stroke="#1c1cff" stroke-width="0.9"/>
<text x="646.5" y="405.7" font-size="10" text-anchor="start" fill="#1c1cff" stroke="#1c1cff" >60</text>
<line x1="642.0" y1="334.5" x2="638.8" y2="334.5" stroke="#1c1cff" stroke-width="0.9"/>
<text x="646.5" y="338.1" font-size="10" text-anchor="start" fill="#1c1cff" stroke="#1c1cff" >70</text>
<line x1="642.0" y1="266.9" x2="638.8" y2="266.9" stroke="#1c1cff" stroke-width="0.9"/>
<text x="646.5" y="270.5" font-size="10" text-anchor="start" fill="#1c1cff" stroke="#1c1cff" >80</text>
<line x1="642.0" y1="368.3" x2="640.2" y2="368.3" stroke="#1c1cff" stroke-width="0.9"/>
<line x1="642.0" y1="300.7" x2="640.2" y2="300.7" stroke="#1c1cff" stroke-width="0.9"/>
<text x="509.0" y="449.2" font-size="9.78" text-anchor="middle" fill="#1a1a1a" stroke="#1a1a1a" >Hierarchy factor</text>
<text transform="translate(357.3,326.0) rotate(-90)" font-size="9.95" text-anchor="middle" fill="#1a1a1a" stroke="#1a1a1a">Yield of DEM (%)</text>
<text transform="translate(667.0,327.6) rotate(-90)" font-size="9.95" text-anchor="middle" fill="#1c1cff" stroke="#1c1cff">Conversion of lignin (%)</text>
<text x="346.4" y="238.2" font-size="13.2" text-anchor="start" fill="#1a1a1a" stroke="#1a1a1a" >(D)</text>
<rect x="412.0" y="410.4" width="4.0" height="4.0" fill="#111"/>
<rect x="487.8" y="348.3" width="4.0" height="4.0" fill="#111"/>
<rect x="542.7" y="310.8" width="4.0" height="4.0" fill="#111"/>
<rect x="549.7" y="366.0" width="4.0" height="4.0" fill="#111"/>
<rect x="598.2" y="293.9" width="4.0" height="4.0" fill="#111"/>
<rect x="602.0" y="297.4" width="4.0" height="4.0" fill="#111"/>
<polygon points="414.00,398.00 414.92,400.64 417.71,400.69 415.48,402.38 416.29,405.06 414.00,403.46 411.71,405.06 412.52,402.38 410.29,400.69 413.08,400.64" fill="#1c1cff"/>
<polygon points="414.00,371.50 414.92,374.14 417.71,374.19 415.48,375.88 416.29,378.56 414.00,376.96 411.71,378.56 412.52,375.88 410.29,374.19 413.08,374.14" fill="#1c1cff"/>
<polygon points="489.80,355.00 490.72,357.64 493.51,357.69 491.28,359.38 492.09,362.06 489.80,360.46 487.51,362.06 488.32,359.38 486.09,357.69 488.88,357.64" fill="#1c1cff"/>
<polygon points="544.70,293.00 545.62,295.64 548.41,295.69 546.18,297.38 546.99,300.06 544.70,298.46 542.41,300.06 543.22,297.38 540.99,295.69 543.78,295.64" fill="#1c1cff"/>
<polygon points="551.70,335.20 552.62,337.84 555.41,337.89 553.18,339.58 553.99,342.26 551.70,340.66 549.41,342.26 550.22,339.58 547.99,337.89 550.78,337.84" fill="#1c1cff"/>
<polygon points="599.70,263.20 600.62,265.84 603.41,265.89 601.18,267.58 601.99,270.26 599.70,268.66 597.41,270.26 598.22,267.58 595.99,265.89 598.78,265.84" fill="#1c1cff"/>
<polygon points="604.00,263.20 604.92,265.84 607.71,265.89 605.48,267.58 606.29,270.26 604.00,268.66 601.71,270.26 602.52,267.58 600.29,265.89 603.08,265.84" fill="#1c1cff"/>
<text x="418.4" y="412.9" font-size="9.6" text-anchor="start" fill="#1a1a1a" stroke="#1a1a1a" >b (d)</text>
<text x="419.2" y="399.2" font-size="9.8" text-anchor="start" fill="#1c1cff" stroke="#1c1cff" >b</text>
<text x="418.8" y="379.5" font-size="9.8" text-anchor="start" fill="#1c1cff" stroke="#1c1cff" >d</text>
<text x="494.7" y="351.6" font-size="9.5" text-anchor="start" fill="#1a1a1a" stroke="#1a1a1a" >f</text>
<text x="494.7" y="363.6" font-size="9.5" text-anchor="start" fill="#1c1cff" stroke="#1c1cff" >f</text>
<text x="551.4" y="301.6" font-size="10.2" text-anchor="start" fill="#1c1cff" stroke="#1c1cff" >g</text>
<text x="549.6" y="316.3" font-size="10" text-anchor="start" fill="#1a1a1a" stroke="#1a1a1a" >g</text>
<text x="558.0" y="342.4" font-size="9.5" text-anchor="start" fill="#1c1cff" stroke="#1c1cff" >i</text>
<text x="557.6" y="370.8" font-size="9.5" text-anchor="start" fill="#1a1a1a" stroke="#1a1a1a" >i</text>
<text x="590.6" y="269.2" font-size="9.5" text-anchor="start" fill="#1c1cff" stroke="#1c1cff" >h</text>
<text x="608.0" y="270.5" font-size="9.5" text-anchor="start" fill="#1c1cff" stroke="#1c1cff" >j</text>
<text x="590.6" y="299.0" font-size="9.5" text-anchor="start" fill="#1a1a1a" stroke="#1a1a1a" >h</text>
<text x="608.0" y="304.0" font-size="9.5" text-anchor="start" fill="#1a1a1a" stroke="#1a1a1a" >j</text>
<line x1="616.6" y1="262.6" x2="640.4" y2="262.6" stroke="#1c1cff" stroke-width="1" marker-end="url(#ahb)"/>
<line x1="408.8" y1="412.4" x2="391" y2="412.4" stroke="#111" stroke-width="0.9" marker-end="url(#ah2)"/>
</svg>
</body></html>
